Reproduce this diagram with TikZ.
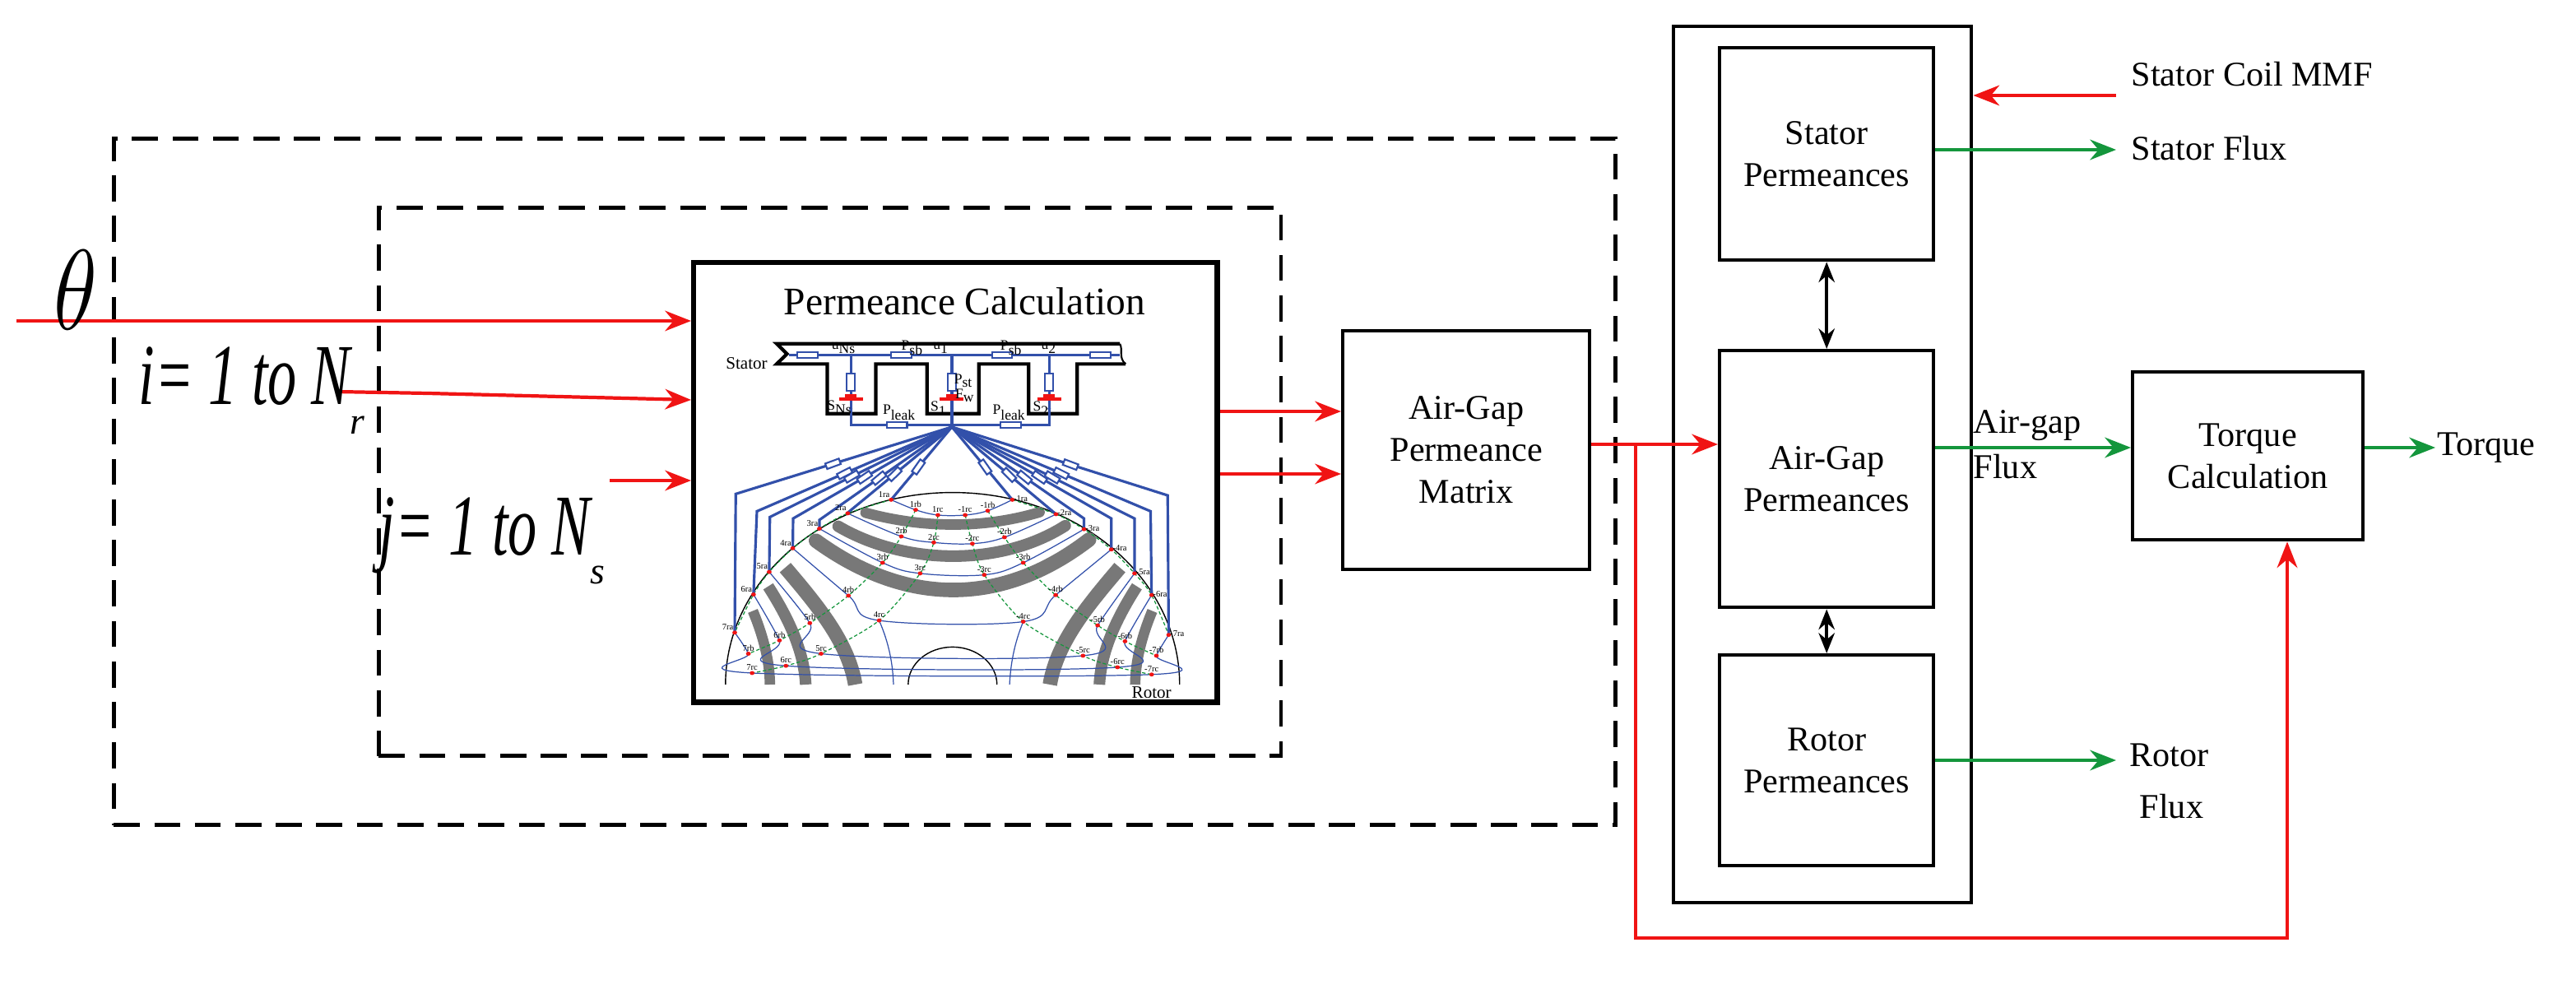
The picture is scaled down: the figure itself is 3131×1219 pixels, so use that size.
\documentclass[tikz,border=0pt]{standalone}
\usepackage{fontspec}
\setmainfont{Liberation Serif}
\usetikzlibrary{arrows.meta,calc}
\definecolor{rd}{RGB}{240,20,20}
\definecolor{gn}{RGB}{20,150,60}
\definecolor{bl}{RGB}{50,80,170}
\definecolor{gy}{RGB}{120,120,120}
\begin{document}
\begin{tikzpicture}[x=0.01cm,y=-0.01cm,
  box/.style={draw,line width=1.2pt,align=center,font=\fontsize{12}{14.5}\selectfont,inner sep=0pt},
  dsh/.style={draw,line width=1.3pt,dash pattern=on 9pt off 5pt},
  ra/.style={draw=rd,line width=1.2pt,-{Stealth[length=9pt,width=7pt]}},
  ga/.style={draw=gn,line width=1.2pt,-{Stealth[length=9pt,width=7pt]}},
  ba/.style={draw,line width=1.2pt,{Stealth[length=7pt,width=5.5pt]}-{Stealth[length=7pt,width=5.5pt]}},
  lbl/.style={font=\fontsize{12}{14.5}\selectfont,align=left,inner sep=0pt},
  big/.style={font=\fontsize{22}{24}\itshape,inner sep=0pt},
  res/.style={draw=bl,fill=white,line width=0.6pt,minimum width=5pt,minimum height=2pt,inner sep=0pt,rectangle},
  tl/.style={font=\fontsize{3}{3}\selectfont,inner sep=0.3pt,text=black}]
\useasboundingbox (0,0) rectangle (3131,1219);
% dashed frames
\node[dsh,minimum width=18.24cm,minimum height=8.34cm,anchor=north west] (outer) at (136,166) {};
\node[dsh,minimum width=10.96cm,minimum height=6.66cm,anchor=north west] (inner) at (458,250) {};
% permeance box
\node[draw,line width=1.8pt,fill=white,minimum width=6.36cm,minimum height=5.34cm,anchor=north west] (perm) at (840,316) {};
\begin{scope}[shift={(832,309)},xscale=0.415,yscale=0.351]
 \node[font=\fontsize{13.5}{15}\selectfont] (ptitle) at (820,162) {Permeance Calculation};
 % stator
 \draw[line width=1.2pt] (1275,310) -- (270,310) -- (300,345) -- (270,380) -- (418,380) -- (418,552) -- (560,552) -- (560,380) -- (710,380) -- (710,552) -- (862,552) -- (862,380) -- (1008,380) -- (1008,552) -- (1150,552) -- (1150,380) -- (1292,380);
 \draw[line width=0.6pt] (1275,310) .. controls (1285,330) and (1270,360) .. (1292,380);
 \node[font=\fontsize{6}{6}\selectfont] (stl) at (182,377) {Stator};
 \node[font=\fontsize{6}{6}\selectfont] (rtl) at (1368,1518) {Rotor};
 \draw[bl,line width=0.9pt] (305,350) -- (1275,350);
 \foreach \x in {360,635,930,1218} \node[res,minimum width=7pt] at (\x,350) {};
 \foreach \x in {487,783,1068}{
    \draw[bl,line width=0.9pt] (\x,350) -- (\x,535);
    \node[res,minimum width=2.8pt,minimum height=6pt] at (\x,443) {};
    \fill[bl] (\x,350) circle (5) (\x,535) circle (5);
    \draw[rd,line width=1.2pt] (\x-35,502) -- (\x+35,502) (\x-17,490) -- (\x+17,490);
 }
 \draw[bl,line width=0.9pt] (487,535) -- (487,590) -- (1068,590) -- (1068,535) (783,535) -- (783,598);
 \foreach \x in {622,955} \node[res,minimum width=7pt] at (\x,590) {};
 \node[font=\fontsize{5}{5}\selectfont] at (467,325) {u\textsubscript{Ns}};
 \node[font=\fontsize{5}{5}\selectfont] at (752,325) {u\textsubscript{1}};
 \node[font=\fontsize{5}{5}\selectfont] at (1068,325) {u\textsubscript{2}};
 \node[font=\fontsize{5}{5}\selectfont] at (668,325) {P\textsubscript{sb}};
 \node[font=\fontsize{5}{5}\selectfont] at (958,325) {P\textsubscript{sb}};
 \node[font=\fontsize{5}{5}\selectfont] at (818,438) {P\textsubscript{st}};
 \node[font=\fontsize{5}{5}\selectfont] at (822,490) {F\textsubscript{w}};
 \node[font=\fontsize{5}{5}\selectfont] at (455,530) {S\textsubscript{Ns}};
 \node[font=\fontsize{5}{5}\selectfont] at (745,535) {S\textsubscript{1}};
 \node[font=\fontsize{5}{5}\selectfont] at (1045,535) {S\textsubscript{2}};
 \node[font=\fontsize{5}{5}\selectfont] at (630,548) {P\textsubscript{leak}};
 \node[font=\fontsize{5}{5}\selectfont] at (952,548) {P\textsubscript{leak}};
 % rotor outline
 \draw[line width=0.4pt] (120,1490) arc[start angle=180,end angle=360,radius=665];
 \draw[line width=0.4pt] (655,1490) arc[start angle=180,end angle=360,radius=130];
 % gray bars
 \begin{scope}[gy,line cap=round]
  \draw[line width=3.6pt] (530,895) .. controls (700,950) and (880,950) .. (1040,893);
  \draw[line width=4pt] (450,942) .. controls (650,1080) and (930,1080) .. (1115,940);
  \draw[line width=5pt] (385,992) .. controls (650,1220) and (930,1220) .. (1185,988);
  \draw[line width=5pt,line cap=butt] (295,1085) .. controls (400,1230) and (480,1350) .. (500,1490);
  \draw[line width=4pt,line cap=butt] (245,1150) .. controls (310,1270) and (350,1380) .. (355,1490);
  \draw[line width=3.6pt,line cap=butt] (200,1235) .. controls (230,1320) and (250,1410) .. (250,1490);
  \draw[line width=5pt,line cap=butt] (1275,1085) .. controls (1170,1230) and (1090,1350) .. (1070,1490);
  \draw[line width=4pt,line cap=butt] (1325,1150) .. controls (1260,1270) and (1220,1380) .. (1215,1490);
  \draw[line width=3.6pt,line cap=butt] (1370,1235) .. controls (1340,1320) and (1320,1410) .. (1320,1490);
 \end{scope}
 % node grid
 \foreach \n/\a/\b/\c/\d/\e/\f in {
   1/{605,850}/{677,885}/{742,903}/{822,903}/{888,888}/{960,850},
   2/{478,897}/{635,977}/{730,998}/{843,1002}/{937,980}/{1088,900},
   3/{395,950}/{580,1068}/{690,1105}/{878,1110}/{992,1068}/{1170,952},
   4/{317,1018}/{480,1182}/{570,1268}/{992,1272}/{1087,1180}/{1250,1022},
   5/{248,1100}/{367,1277}/{400,1383}/{1167,1390}/{1210,1285}/{1318,1105},
   6/{202,1178}/{278,1337}/{297,1425}/{1268,1430}/{1290,1340}/{1368,1180},
   7/{147,1310}/{187,1383}/{198,1450}/{1368,1455}/{1382,1390}/{1418,1318}}{
   \coordinate (ra\n) at (\a); \coordinate (rb\n) at (\b); \coordinate (rc\n) at (\c);
   \coordinate (mc\n) at (\d); \coordinate (mb\n) at (\e); \coordinate (ma\n) at (\f);
 }
 \foreach \n in {1,...,7}{
   \draw[bl,line width=0.35pt] plot[smooth,tension=0.6] coordinates {(ra\n) (rb\n) (rc\n) (mc\n) (mb\n) (ma\n)};
 }
 \draw[bl,line width=0.35pt] (rc4) .. controls (600,1350) and (610,1420) .. (612,1490);
 \draw[bl,line width=0.35pt] (mc4) .. controls (965,1350) and (955,1420) .. (952,1490);
 \foreach \k in {ra,rb,rc,ma,mb,mc}{
   \draw[gn,line width=0.35pt,dash pattern=on 1.2pt off 0.8pt] plot[smooth] coordinates {(\k1) (\k2) (\k3) (\k4) (\k5) (\k6) (\k7)};
 }
 % fan connections
 \foreach \n/\tx/\ty in {7/150/830,6/212/890,5/250/910,4/318/915,3/395/920,2/478/895}{
   \draw[bl,line width=0.9pt] (783,598) -- node[res,sloped,pos=0.55]{} (\tx,\ty) -- (ra\n);
 }
 \draw[bl,line width=0.9pt] (783,598) -- node[res,sloped,pos=0.55]{} (ra1);
 \foreach \n/\tx/\ty in {7/1415/835,6/1365/890,5/1318/915,4/1250/915,3/1170/915,2/1088/900}{
   \draw[bl,line width=0.9pt] (783,598) -- node[res,sloped,pos=0.55]{} (\tx,\ty) -- (ma\n);
 }
 \draw[bl,line width=0.9pt] (783,598) -- node[res,sloped,pos=0.55]{} (ma1);
 % dots and labels
 \foreach \n in {1,...,7}{
   \foreach \k/\t/\an in {ra/\n ra/south east,rb/\n rb/south,rc/\n rc/south,mc/-\n rc/south,mb/-\n rb/south,ma/-\n ra/west}{
     \fill[rd] (\k\n) circle (7);
     \node[tl,anchor=\an] at ($(\k\n)+(0,-4)$) {\t};
   }
 }
\end{scope}
% inputs
\coordinate (thS) at (20,390);
\coordinate (iS) at (409,476);
\coordinate (jS) at (741,584);
\draw[ra] (thS) -- (perm.west |- 0,390);
\draw[ra] (iS) -- (520,478) -- (perm.west |- 0,486);
\draw[ra] (jS) -- (perm.west |- 0,584);
\node[big] (theta) at (92,352) {\scalebox{1.5}[1.9]{$\theta$}};
\node[big,anchor=base west] (ilab) at (168,492) {\scalebox{1}[1.5]{\fontsize{20}{24}\selectfont\itshape i= 1 to N}\raisebox{-10pt}{\fontsize{13}{14}\selectfont\itshape r}};
\node[big,anchor=base west] (jlab) at (460,674) {\scalebox{1}[1.5]{\fontsize{20}{24}\selectfont\itshape j= 1 to N}\raisebox{-10pt}{\fontsize{13}{14}\selectfont\itshape s}};
% AGPM
\node[box,minimum width=3cm,minimum height=2.9cm,anchor=north west] (agpm) at (1630,400) {Air-Gap\\Permeance\\Matrix};
\draw[ra] (perm.east |- 0,500) -- (agpm.west |- 0,500);
\draw[ra] (perm.east |- 0,576) -- (agpm.west |- 0,576);
% right block
\node[draw,line width=1.2pt,minimum width=3.62cm,minimum height=10.64cm,anchor=north west] (rblk) at (2032,30) {};
\node[box,minimum width=2.6cm,minimum height=2.58cm,anchor=north west] (sp) at (2088,56) {Stator\\Permeances};
\node[box,minimum width=2.6cm,minimum height=3.12cm,anchor=north west] (ap) at (2088,424) {Air-Gap\\Permeances};
\node[box,minimum width=2.6cm,minimum height=2.56cm,anchor=north west] (rp) at (2088,794) {Rotor\\Permeances};
\draw[ba] (sp) -- (ap);
\draw[ba] (ap) -- (rp);
\draw[ra] (agpm.east |- 0,540) -- (ap.west |- 0,540);
\node[box,minimum width=2.8cm,minimum height=2.04cm,anchor=north west] (tq) at (2590,450) {Torque\\Calculation};
\draw[ra] (1988,540) -- (1988,1140) -- (2780,1140) -- (tq.south -| 2780,0);
\draw[ga] (ap.east |- 0,544) -- (tq.west |- 0,544);
\node[lbl,anchor=south west] (agf1) at (2398,536) {Air-gap};
\node[lbl,anchor=north west] (agf2) at (2398,552) {Flux};
\coordinate (tqE) at (2960,544);
\draw[ga] (tq.east |- 0,544) -- (tqE);
\node[lbl,anchor=west] (tql) at (2962,544) {Torque};
% stator side
\coordinate (mmfS) at (2572,116);
\draw[ra] (mmfS) -- (rblk.east |- 0,116);
\node[lbl,anchor=west] (mmf) at (2590,90) {Stator Coil MMF};
\coordinate (sfE) at (2572,182);
\draw[ga] (sp.east |- 0,182) -- (sfE);
\node[lbl,anchor=west] (sfl) at (2590,180) {Stator Flux};
\coordinate (rfE) at (2572,924);
\draw[ga] (rp.east |- 0,924) -- (rfE);
\node[lbl,anchor=west] (rfl) at (2588,918) {Rotor};
\node[lbl,anchor=west] (rfl2) at (2600,980) {Flux};
\end{tikzpicture}
\end{document}
